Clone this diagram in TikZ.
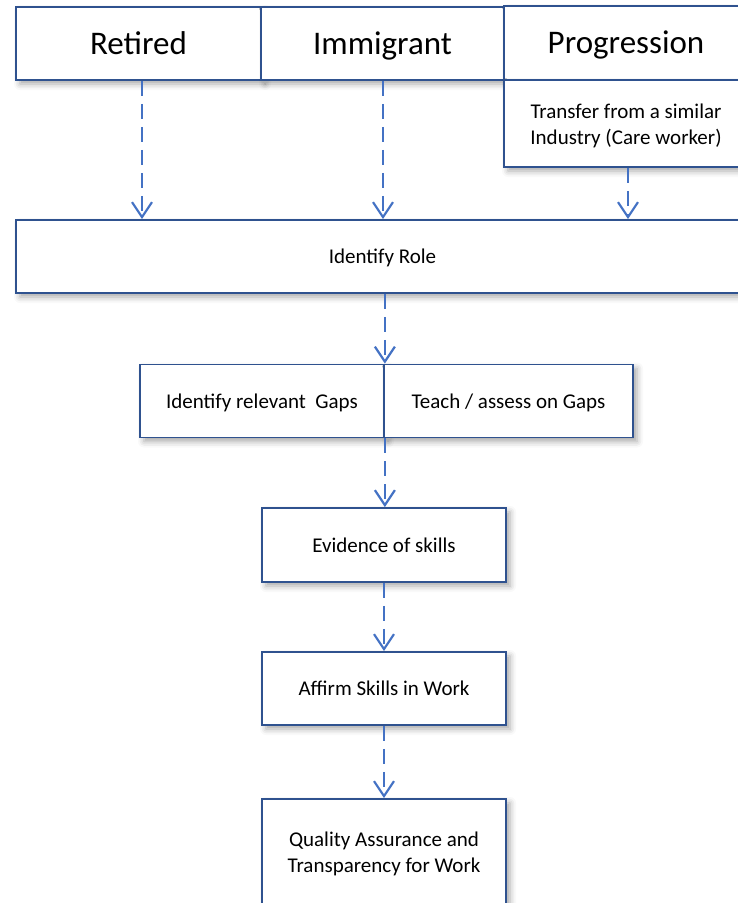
\documentclass[tikz,border=0pt]{standalone}
\usepackage{fontspec}
\setmainfont{Carlito}
\usetikzlibrary{arrows.meta,shadows.blur}

\definecolor{boxblue}{HTML}{2F528F}
\definecolor{arrowblue}{HTML}{4472C4}

\begin{document}
\begin{tikzpicture}[x=1pt,y=-1pt]

\tikzset{
  flow box/.style={
    draw=boxblue, line width=1.8pt, fill=white,
    blur shadow={shadow xshift=4pt, shadow yshift=-4pt, shadow blur radius=6pt, shadow opacity=35},
    align=center, inner sep=0pt,
    font=\fontsize{21}{26}\selectfont,
  },
  one line/.style={
    text height=16pt, text depth=2pt,
  },
  big box/.style={
    flow box, font=\fontsize{33}{40}\selectfont,
    text height=26pt, text depth=4.4pt,
  },
  flow arrow/.style={
    draw=arrowblue, line width=2.2pt, dash pattern=on 15pt off 8pt,
    -{Straight Barb[length=15pt,width=20pt,line width=2.2pt]},
  }
}

  \useasboundingbox (0,0) rectangle (738,903);
  \clip (0,0) rectangle (738,903);

  % Top row
  \node[big box, minimum width=245, minimum height=73] (retired) at (138.5,43.5) {Retired};
  \node[big box, minimum width=243, minimum height=73] (immigrant) at (382.5,43.5) {Immigrant};
  \node[big box, minimum width=244, minimum height=74] (progression) at (626,43) {Progression};
  \node[flow box, minimum width=244, minimum height=87, text height=43pt, text depth=2pt] (transfer) at (626,123.5)
    {Transfer from a similar\\Industry (Care worker)};

  % Role
  \node[flow box, one line, minimum width=733, minimum height=73] (role) at (382.5,256.5) {Identify Role};

  % Gaps
  \node[flow box, one line, minimum width=244, minimum height=73] (gaps) at (262,401) {Identify relevant~ Gaps};
  \node[flow box, one line, minimum width=249, minimum height=73] (teach) at (508.5,401) {Teach / assess on Gaps};

  % Lower boxes
  \node[flow box, one line, minimum width=244, minimum height=74] (evidence) at (384,545) {Evidence of skills};
  \node[flow box, one line, minimum width=244, minimum height=73] (affirm) at (384,688.5) {Affirm Skills in Work};
  \node[flow box, minimum width=244, minimum height=110] (quality) at (384,854)
    {Quality Assurance and\\Transparency for Work};

  % Edges
  \draw[flow arrow] ([xshift=3.5pt]retired.south) -- ([xshift=3.5pt]retired.south |- role.north);
  \draw[flow arrow] ([xshift=0.5pt]immigrant.south) -- ([xshift=0.5pt]immigrant.south |- role.north);
  \draw[flow arrow] ([xshift=2pt]transfer.south) -- ([xshift=2pt]transfer.south |- role.north);

  \draw[flow arrow] (gaps.north east |- role.south) -- (gaps.north east);
  \draw[flow arrow] (gaps.south east) -- (gaps.south east |- evidence.north);
  \draw[flow arrow] (evidence.south) -- (affirm.north);
  \draw[flow arrow] (affirm.south) -- (quality.north);
\end{tikzpicture}
\end{document}
